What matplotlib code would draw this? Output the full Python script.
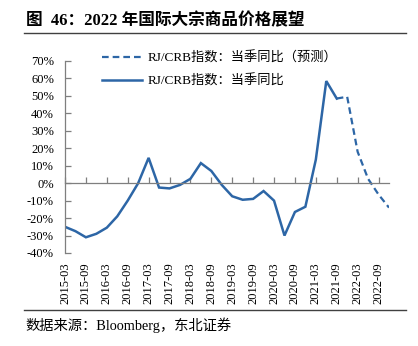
import matplotlib
matplotlib.use("Agg")
import matplotlib.pyplot as plt
from matplotlib.lines import Line2D

plt.rcParams['font.family'] = ['Liberation Serif', 'Noto Sans CJK SC', 'DejaVu Sans']

quarters = ["2015-03", "2015-06", "2015-09", "2015-12",
            "2016-03", "2016-06", "2016-09", "2016-12",
            "2017-03", "2017-06", "2017-09", "2017-12",
            "2018-03", "2018-06", "2018-09", "2018-12",
            "2019-03", "2019-06", "2019-09", "2019-12",
            "2020-03", "2020-06", "2020-09", "2020-12",
            "2021-03", "2021-06", "2021-09", "2021-12",
            "2022-03", "2022-06", "2022-09", "2022-12"]

actual = [-25, -27.5, -31, -29,
          -25.5, -19, -10, 0,
          14.5, -2.5, -3, -1,
          2.5, 11.5, 7, -1,
          -7.5, -9.5, -9, -4.5,
          -10, -30, -16.5, -13.5,
          13.5, 58.5, 48.5]

forecast_start = "2021-09"
forecast = [48.5, 49.5, 18, 2.5, -6.5, -14]

yticks = [-40, -30, -20, -10, 0, 10, 20, 30, 40, 50, 60, 70]
xtick_labels = quarters[::2]

label_fc = "RJ/CRB指数：当季同比（预测）"
label_act = "RJ/CRB指数：当季同比"
title = "图  46：2022 年国际大宗商品价格展望"
source = "数据来源：Bloomberg，东北证券"

color = "#2D66A6"
gray = "#7F7F7F"

fig = plt.figure(figsize=(4.18, 3.46), dpi=100)
ax = fig.add_axes([0.1555, 0.2688, 0.9306 - 0.1555, 0.8237 - 0.2688])

x_act = list(range(len(actual)))
i0 = quarters.index(forecast_start)
x_fc = list(range(i0, i0 + len(forecast)))

ax.plot(x_fc, forecast, color=color, lw=1.6, linestyle=(0, (3, 1.8)))
ax.plot(x_act, actual, color=color, lw=1.8, solid_joinstyle='miter')

ax.set_xlim(0, len(quarters) - 1)
ax.set_ylim(-40, 70)
ax.set_yticks(yticks)
ax.set_yticklabels([f"{v}%" for v in yticks], fontsize=9)

for s in ['top', 'right']:
    ax.spines[s].set_visible(False)
ax.spines['bottom'].set_position(('data', 0))
ax.spines['bottom'].set_color(gray)
ax.spines['left'].set_color(gray)
ax.spines['bottom'].set_linewidth(0.9)
ax.spines['left'].set_linewidth(0.9)

xt = list(range(0, len(quarters), 2))
ax.set_xticks(xt)
ax.set_xticklabels([])
ax.tick_params(axis='x', direction='in', length=4, color=gray, width=0.9)
ax.tick_params(axis='y', direction='in', length=4, color=gray, width=0.9, pad=8)

sec = ax.secondary_xaxis('bottom')
sec.set_xticks(xt)
sec.set_xticklabels(xtick_labels, rotation=90, fontsize=9)
sec.tick_params(length=0, pad=6.5)
sec.spines['bottom'].set_visible(False)

handles = [Line2D([], [], color=color, lw=1.6, linestyle=(0, (3, 1.8))),
           Line2D([], [], color=color, lw=1.8)]
fig.legend(handles, [label_fc, label_act], loc='upper left',
           bbox_to_anchor=(0.243, 0.852), frameon=False, fontsize=9.5,
           handlelength=3.1, handletextpad=0.4, labelspacing=0.75,
           borderpad=0, borderaxespad=0)

fig.text(0.062, 0.940, title, fontsize=12, fontweight='bold', va='center', ha='left')
fig.add_artist(Line2D([0.057, 0.971], [0.906, 0.906], color='#404040', lw=1.0,
                      transform=fig.transFigure))
fig.add_artist(Line2D([0.057, 0.971], [0.104, 0.104], color='#404040', lw=1.0,
                      transform=fig.transFigure))
fig.text(0.060, 0.060, source, fontsize=10.3, va='center', ha='left')

fig.savefig("out.png", dpi=100)
